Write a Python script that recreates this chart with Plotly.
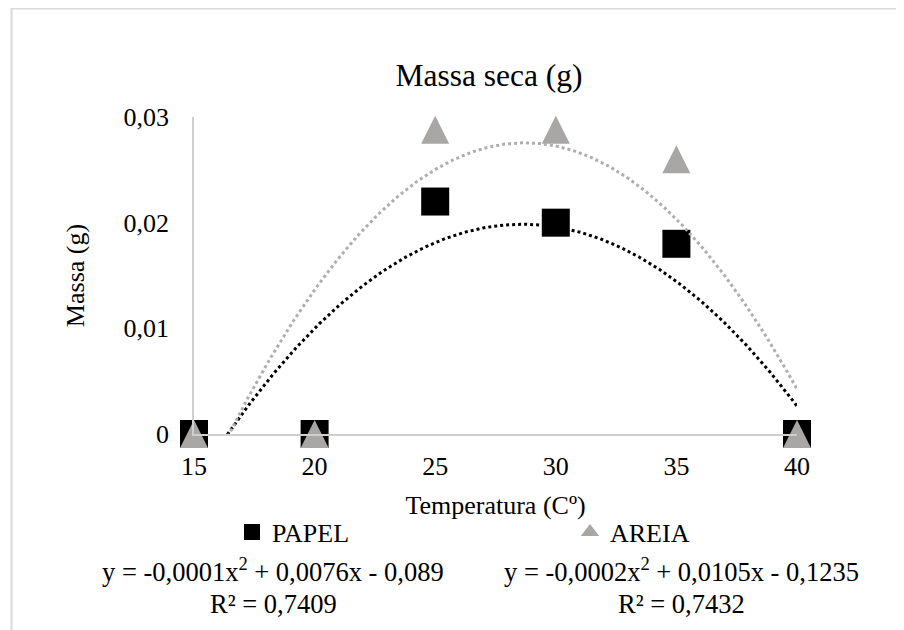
import numpy as np
import plotly.graph_objects as go

# ---- data ----
temperatura = [15, 20, 25, 30, 35, 40]
papel = [0, 0, 0.022, 0.020, 0.018, 0]
areia = [0, 0, 0.0288, 0.0288, 0.026, 0]

x_tickvals = [15, 20, 25, 30, 35, 40]
x_ticktext = ["15", "20", "25", "30", "35", "40"]
y_tickvals = [0, 0.01, 0.02, 0.03]
y_ticktext = ["0", "0,01", "0,02", "0,03"]

eq_papel = ["y = -0,0001x<sup>2</sup> + 0,0076x - 0,089", "R² = 0,7409"]
eq_areia = ["y = -0,0002x<sup>2</sup> + 0,0105x - 0,1235", "R² = 0,7432"]

# polynomial (order 2) trendlines, as in the spreadsheet, fitted to the data
xf = np.linspace(min(temperatura), max(temperatura), 400)
fit_papel = np.polyval(np.polyfit(temperatura, papel, 2), xf)
fit_areia = np.polyval(np.polyfit(temperatura, areia, 2), xf)

FONT = "Liberation Serif"
OFF = 8  # page body margin of the browser
W, H = 904 - OFF, 630 - OFF
# plot area in screen pixels: x 194..797, y 117..434
L, T = 194 - OFF, 117 - OFF
R, B = W - (797 - OFF), H - (434 - OFF)
PW, PH = W - L - R, H - T - B


def px_x(p):  # screen pixel -> paper x
    return (p - OFF - L) / PW


def px_y(p):  # screen pixel -> paper y
    return (H - B - (p - OFF)) / PH


fig = go.Figure()

fig.add_trace(go.Scatter(
    x=temperatura, y=papel, mode="markers", name="PAPEL",
    marker=dict(symbol="square", size=28, color="#000000"),
    cliponaxis=False, legend="legend",
))
# centred, equilateral-looking triangles: a flipped arrow shifted by half its size
fig.add_trace(go.Scatter(
    x=temperatura, y=areia, mode="markers", name="AREIA", showlegend=False,
    marker=dict(symbol="arrow-down", size=28, angle=180, standoff=14,
                color="#A9A6A6"),
    cliponaxis=False,
))
fig.add_trace(go.Scatter(
    x=xf, y=fit_papel, mode="lines", showlegend=False, hoverinfo="skip",
    line=dict(color="#000000", width=3, dash="dot"),
))
fig.add_trace(go.Scatter(
    x=xf, y=fit_areia, mode="lines", showlegend=False, hoverinfo="skip",
    line=dict(color="#B0ADAD", width=3, dash="dot"),
))
# legend entry for AREIA
fig.add_trace(go.Scatter(
    x=[None], y=[None], mode="markers", name="AREIA",
    marker=dict(symbol="triangle-up", size=20, color="#A9A6A6"),
    legend="legend2",
))

# outer chart-area border (cropped on the right and bottom)
fig.add_shape(
    type="path", xref="paper", yref="paper",
    path=f"M {px_x(11.5)},{px_y(680)} L {px_x(11.5)},{px_y(8.5)} L {px_x(960)},{px_y(8.5)}",
    line=dict(color="#D9D9D9", width=2),
)

# equation labels, anchored on their bottom so that both lines share baselines
for txt, xc in ((eq_papel, 273), (eq_areia, 681)):
    for line_txt, yb in zip(txt, (589, 621)):
        fig.add_annotation(
            text=line_txt, xref="paper", yref="paper", x=px_x(xc), y=px_y(yb),
            xanchor="center", yanchor="bottom", showarrow=False,
            font=dict(family=FONT, size=26.5, color="#000000"),
        )

legend_common = dict(
    orientation="h", xref="paper", yref="paper", yanchor="middle",
    font=dict(family=FONT, size=26, color="#000000"),
    bgcolor="rgba(0,0,0,0)", itemsizing="trace",
)

fig.update_layout(
    width=W, height=H,
    margin=dict(l=L, r=R, t=T, b=B, pad=0),
    paper_bgcolor="#FFFFFF", plot_bgcolor="#FFFFFF",
    font=dict(family=FONT, size=26, color="#000000"),
    title=dict(
        text="Massa seca (g)", xref="container", yref="container",
        x=(489 - OFF) / W, y=1 - (75 - OFF) / H, xanchor="center", yanchor="middle",
        font=dict(family=FONT, size=31.5, color="#000000"),
    ),
    showlegend=True,
    legend=dict(x=px_x(232), y=px_y(532), xanchor="left", **legend_common),
    legend2=dict(x=px_x(570), y=px_y(532), xanchor="left", **legend_common),
    xaxis=dict(
        range=[15, 40], tickvals=x_tickvals, ticktext=x_ticktext,
        showgrid=False, zeroline=False, showline=True,
        linecolor="#CFCFCF", linewidth=1.5, ticks="",
        ticklabelstandoff=8,
        title=dict(text="Temperatura (Cº)", standoff=16,
                   font=dict(family=FONT, size=26)),
        fixedrange=True,
    ),
    yaxis=dict(
        range=[0, 0.03], tickvals=y_tickvals, ticktext=y_ticktext,
        showgrid=False, zeroline=False, showline=True,
        linecolor="#CFCFCF", linewidth=1.5, ticks="",
        ticklabelstandoff=18,
        title=dict(text="Massa (g)", standoff=31,
                   font=dict(family=FONT, size=26)),
        fixedrange=True,
    ),
)

fig.write_html("out.html")
